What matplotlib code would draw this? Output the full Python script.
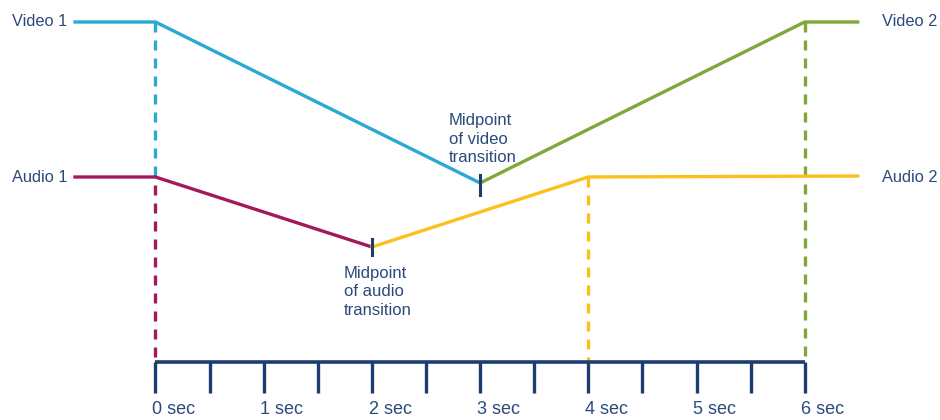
import matplotlib
matplotlib.use("Agg")
import matplotlib.pyplot as plt

plt.rcParams['font.family'] = ['Liberation Sans', 'DejaVu Sans']

# time positions (seconds)
tick_times = [i * 0.5 for i in range(13)]
label_times = [0, 1, 2, 3, 4, 5, 6]
tick_labels = ["0 sec", "1 sec", "2 sec", "3 sec", "4 sec", "5 sec", "6 sec"]

# levels (vertical position units, top = small)
video_level = 22
audio_level = 177
axis_level = 362

# series: video 1 fades out, video 2 fades in
video1_x = [-0.744, 0.0, 3.0]
video1_y = [22, 22, 183]
video2_x = [3.0, 6.0, 6.49]
video2_y = [183, 22, 22]
audio1_x = [-0.744, 0.0, 2.0]
audio1_y = [177, 177, 247]
audio2_x = [2.0, 4.0, 6.49]
audio2_y = [247, 177, 176]

BLUE = "#2AA9D2"
MAGENTA = "#A3195B"
GREEN = "#7EA83A"
YELLOW = "#FBC01A"
NAVY = "#1D3D72"
TEXT = "#2B4A7C"

fig = plt.figure(figsize=(9.4, 4.2), dpi=100)
ax = fig.add_axes([0, 0, 1, 1])
px_per_s = 108.2
x0 = 155.5
ax.set_xlim(-x0 / px_per_s, (940 - x0) / px_per_s)
ax.set_ylim(420, 0)
ax.axis("off")

lw = 2.4
dash = (0, (3.0, 2.4))

# dashed verticals
ax.plot([0, 0], [video_level, audio_level], color=BLUE, lw=lw, ls=dash)
ax.plot([0, 0], [audio_level + 8, axis_level], color=MAGENTA, lw=lw, ls=dash)
ax.plot([4, 4], [audio_level, axis_level], color=YELLOW, lw=lw, ls=dash)
ax.plot([6, 6], [video_level, axis_level], color=GREEN, lw=lw, ls=dash)

# lines
ax.plot(video1_x, video1_y, color=BLUE, lw=lw, solid_joinstyle="miter")
ax.plot(video2_x, video2_y, color=GREEN, lw=lw, solid_joinstyle="miter")
ax.plot(audio1_x, audio1_y, color=MAGENTA, lw=lw, solid_joinstyle="miter")
ax.plot(audio2_x, audio2_y, color=YELLOW, lw=lw, solid_joinstyle="miter")

# midpoint markers
ax.plot([3, 3], [video1_y[-1] - 8, video1_y[-1] + 12], color=NAVY, lw=2.2)
ax.plot([2, 2], [audio1_y[-1] - 8, audio1_y[-1] + 8], color=NAVY, lw=2.2)

# time axis
ax.plot([0, 6], [axis_level, axis_level], color=NAVY, lw=2.6, solid_capstyle="butt")
for t in tick_times:
    ax.plot([t, t], [axis_level, axis_level + 31], color=NAVY, lw=2.4, solid_capstyle="butt")
for t, lab in zip(label_times, tick_labels):
    ax.text(t - 0.03, 410, lab, ha="left", va="center", fontsize=13, color=TEXT)

# track labels
ax.text(-0.818, video_level, "Video 1", ha="right", va="center", fontsize=11.8, color=TEXT)
ax.text(-0.818, audio_level, "Audio 1", ha="right", va="center", fontsize=11.8, color=TEXT)
ax.text(6.71, video_level, "Video 2", ha="left", va="center", fontsize=11.8, color=TEXT)
ax.text(6.71, audio_level, "Audio 2", ha="left", va="center", fontsize=11.8, color=TEXT)

# annotations
ax.text(2.713, 139, "Midpoint\nof video\ntransition", ha="left", va="center",
        fontsize=12, color=TEXT, linespacing=1.3)
ax.text(1.742, 292, "Midpoint\nof audio\ntransition", ha="left", va="center",
        fontsize=12, color=TEXT, linespacing=1.3)

fig.savefig("out.png", dpi=100, facecolor="white")
